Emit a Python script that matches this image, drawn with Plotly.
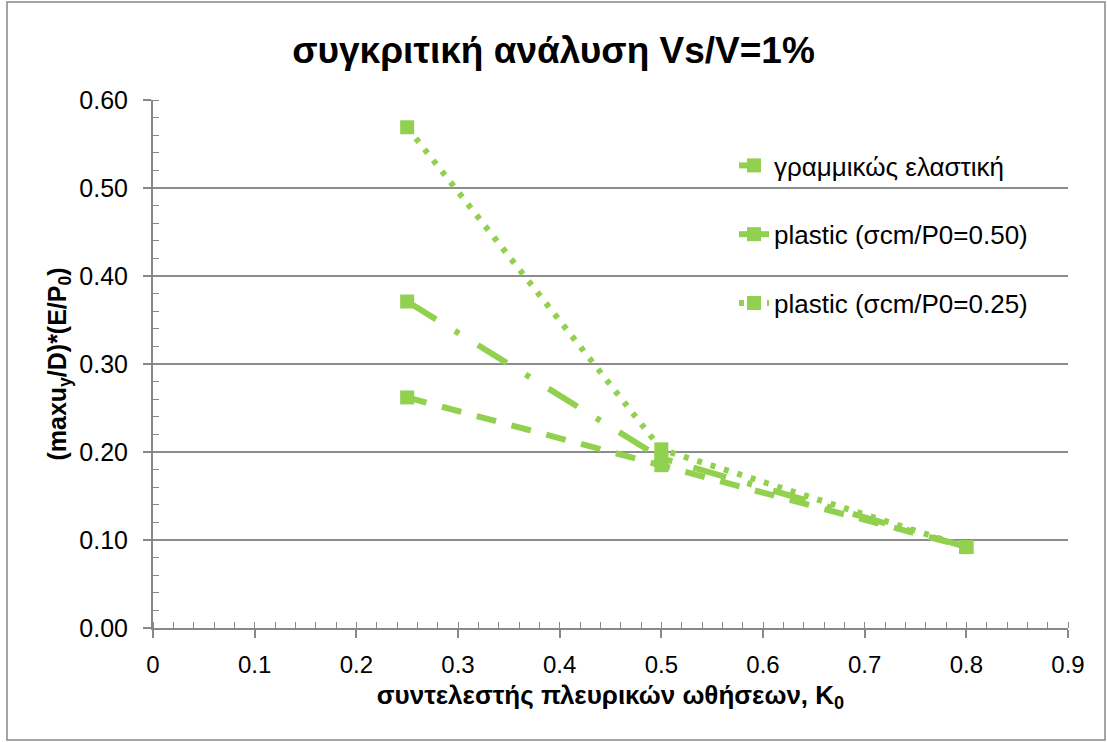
import plotly.graph_objects as go

k0 = [0.25, 0.5, 0.8]
elastic = [0.262, 0.185, 0.092]
plastic_050 = [0.371, 0.193, 0.092]
plastic_025 = [0.569, 0.203, 0.092]
names = ["γραμμικώς ελαστική", "plastic (σcm/P0=0.50)", "plastic (σcm/P0=0.25)"]
green = "#92D050"

fig = go.Figure()
styles = [(elastic, "20px,16px"), (plastic_050, "34px,22px,5px,22px"), (plastic_025, "5px,9px")]
for i, (vals, dash) in enumerate(styles):
    fig.add_trace(go.Scatter(
        x=k0, y=vals, name=names[i], mode="lines+markers",
        line=dict(color=green, width=6, dash=dash),
        marker=dict(symbol="square", size=14, color=green),
        legendgroup=f"g{i}",
    ))

W, H = 1107, 742
L, R, T, B = 153, 39, 100, 114
pw, ph = W - L - R, H - T - B

fig.update_layout(
    width=W, height=H,
    margin=dict(l=L, r=R, t=T, b=B),
    paper_bgcolor="white", plot_bgcolor="white",
    font=dict(family="Liberation Sans, Arial", color="#000", size=24),
    title=dict(text="<b>συγκριτική ανάλυση Vs/V=1%</b>", x=0.5, xanchor="center",
               y=1 - 50 / H, yanchor="middle", font=dict(size=37)),
    legend=dict(x=(734 - L) / pw, y=1 - (142 - T) / ph, xanchor="left", yanchor="top",
                font=dict(size=26), tracegroupgap=32, bgcolor="rgba(0,0,0,0)"),
    showlegend=True,
)
fig.update_xaxes(
    range=[0, 0.9], dtick=0.1, tick0=0, showgrid=False, zeroline=False,
    showline=True, linecolor="#888", linewidth=2,
    ticks="outside", ticklen=8, tickcolor="#888", tickwidth=1.5,
    minor=dict(dtick=0.02, ticks="inside", ticklen=6, tickcolor="#888", tickwidth=1),
    tickfont=dict(size=24), ticklabelstandoff=6,
    title=dict(text="<b>συντελεστής πλευρικών ωθήσεων, K<sub>0</sub></b>", font=dict(size=26), standoff=9),
)
fig.update_yaxes(
    range=[0, 0.6], dtick=0.1, tick0=0, tickformat=".2f",
    showgrid=True, gridcolor="#8c8c8c", gridwidth=2, zeroline=False,
    showline=True, linecolor="#888", linewidth=2,
    ticks="outside", ticklen=8, tickcolor="#888", tickwidth=1.5,
    minor=dict(dtick=0.02, ticks="inside", ticklen=6, tickcolor="#888", tickwidth=1, showgrid=False),
    tickfont=dict(size=25), ticklabelstandoff=10,
    title=dict(text="<b>(maxu<sub>y</sub>/D)*(E/P<sub>0</sub>)</b>", font=dict(size=25), standoff=6),
)
fig.add_shape(type="rect", xref="paper", yref="paper",
              x0=(7 - L) / pw, x1=(W - 2 - L) / pw,
              y0=-(H - 2 - T - ph) / ph, y1=1 + (T - 2) / ph,
              line=dict(color="#888", width=1.5), layer="below")

fig.write_html("out.html")
